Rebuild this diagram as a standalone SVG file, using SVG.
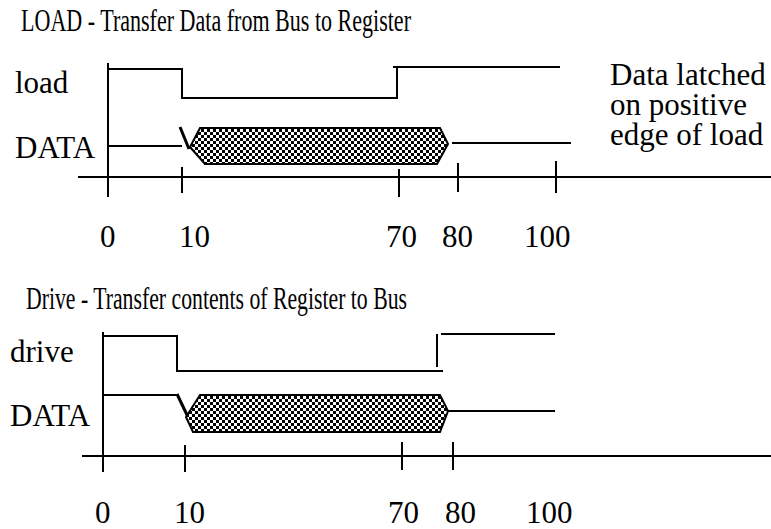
<svg xmlns="http://www.w3.org/2000/svg" width="771" height="529" viewBox="0 0 771 529">
<style>
  text { font-family: "Liberation Serif", "Times New Roman", serif; font-size: 31px; fill: #000; }
  .w { fill: none; stroke: #000; stroke-width: 2; }
  .v { fill: none; stroke: #000; stroke-width: 3; stroke-linecap: butt; }
  .hex { fill: url(#checker); stroke: #000; stroke-width: 2; stroke-linejoin: miter; }
</style>
<defs>
  <pattern id="checker" width="6" height="6" patternUnits="userSpaceOnUse">
    <rect width="6" height="6" fill="#fff"/>
    <rect width="3" height="3" fill="#000"/>
    <rect x="3" y="3" width="3" height="3" fill="#000"/>
  </pattern>
</defs>
<rect width="771" height="529" fill="#fff"/>

<g id="load-diagram">
  <text id="title-load" x="21" y="31" textLength="390" lengthAdjust="spacingAndGlyphs">LOAD -  Transfer Data from Bus to Register</text>
  <g id="label-load"><text x="15" y="93">load</text></g>
  <g id="label-data1"><text x="15" y="158">DATA</text></g>
  <g id="note"><text x="610" y="85">Data latched</text><text x="610" y="115">on positive</text><text x="610" y="145">edge of load</text></g>
  <g id="axis1">
    <path class="w" d="M108 63V197M78 177H771M182 167V193M399 169V197M458 163V192M556 161V193"/>
    <text x="100" y="247">0</text>
    <text x="179" y="247">10</text>
    <text x="386" y="247">70</text>
    <text x="442" y="247">80</text>
    <text x="524" y="247">100</text>
  </g>
  <g id="signal-load">
    <path class="w" d="M108 69H182V98H397M397 99V66M393 67H560"/>
  </g>
  <g id="signal-data1">
    <path class="w" d="M108 146H182"/>
    <path class="v" d="M180 127L189 149"/>
    <polygon class="hex" points="200,128 440,128 448,144 437,164 205,164 190,147"/>
    <path class="w" d="M452 143H571"/>
  </g>
</g>

<g id="drive-diagram">
  <text id="title-drive" x="26" y="309" textLength="381" lengthAdjust="spacingAndGlyphs">Drive - Transfer contents of Register to Bus</text>
  <g id="label-drive"><text x="10" y="362">drive</text></g>
  <g id="label-data2"><text x="10" y="426">DATA</text></g>
  <g id="axis2">
    <path class="w" d="M103 332V472M82 456H771M185 445V472M402 442V470M453 442V470"/>
    <text x="95" y="523">0</text>
    <text x="174" y="523">10</text>
    <text x="388" y="523">70</text>
    <text x="445" y="523">80</text>
    <text x="526" y="523">100</text>
  </g>
  <g id="signal-drive">
    <path class="w" d="M103 336H177V371H443M437 334V367M441 334H555"/>
  </g>
  <g id="signal-data2">
    <path class="w" d="M103 395H177"/>
    <path class="v" d="M177 394L188 417"/>
    <polygon class="hex" points="200,395 440,395 448,411 440,432 193,432 186,417"/>
    <path class="w" d="M448 411H555"/>
  </g>
</g>
</svg>
